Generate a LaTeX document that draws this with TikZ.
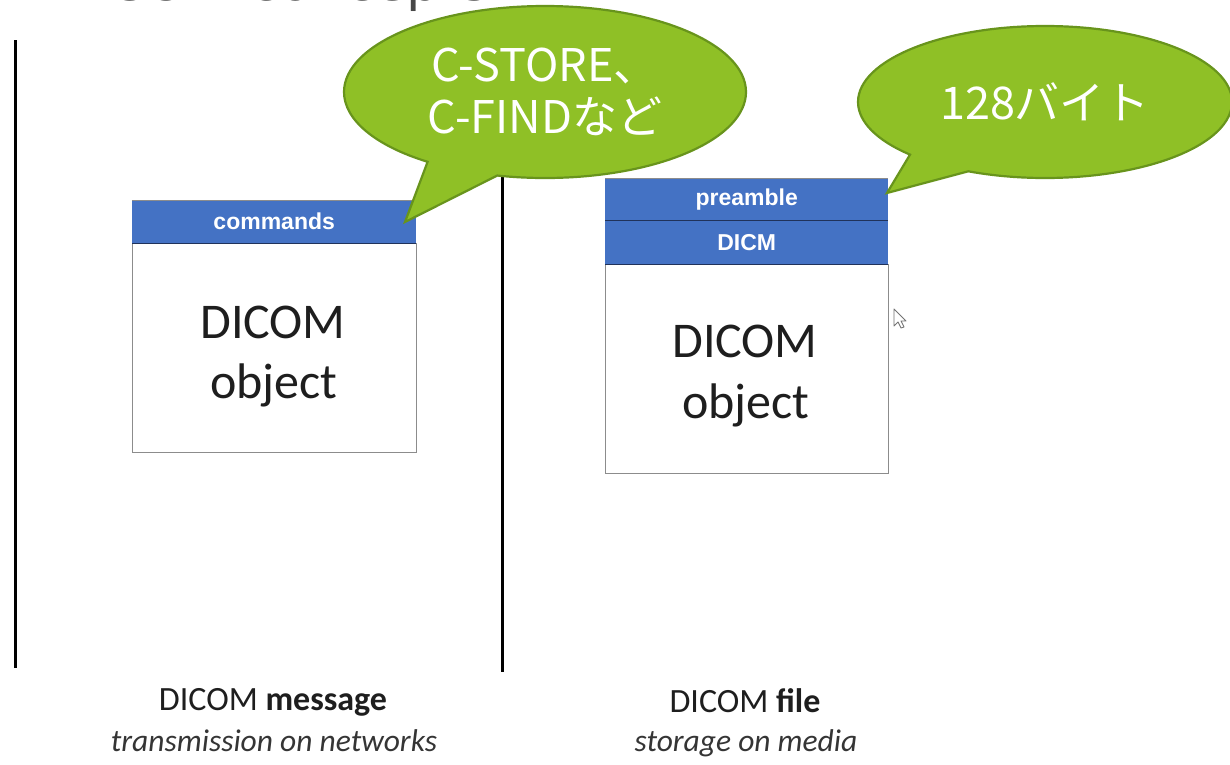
\documentclass[tikz,border=0pt]{standalone}
\usepackage{fontspec}
\setmainfont{Carlito}
\newfontfamily\jpfont{Noto Sans CJK JP}
\newfontfamily\hdfont{Liberation Sans}
\newfontfamily\titlefont{DejaVu Sans}
\usetikzlibrary{shapes.callouts}
\definecolor{hdrblue}{RGB}{68,114,196}
\definecolor{hdrline}{RGB}{32,50,90}
\definecolor{bubblegreen}{RGB}{143,192,38}
\definecolor{bubbleedge}{RGB}{104,148,28}
\definecolor{boxedge}{RGB}{140,140,140}
\definecolor{inkgray}{RGB}{30,30,30}
\begin{document}
\begin{tikzpicture}[x=1pt,y=-1pt,
  bubble/.style={ellipse callout, fill=bubblegreen, draw=bubbleedge, line width=2.2pt,
    inner sep=0pt, text=white, font=\jpfont\fontsize{45}{52}\selectfont, align=center,
    callout pointer arc=22},
  bodybox/.style={draw=boxedge, fill=white, line width=1.4pt, anchor=north west, inner sep=0pt},
  hdr/.style={fill=hdrblue, draw=none, anchor=north west, inner sep=0pt, text=white,
    font=\hdfont\bfseries\fontsize{23}{26}\selectfont},
  sepline/.style={draw=hdrline, line width=1.6pt},
  topline/.style={draw=boxedge, line width=1pt},
  objtext/.style={anchor=base, text=inkgray, font=\fontsize{50}{60}\selectfont},
  caption/.style={anchor=base, text=inkgray, font=\fontsize{34}{40}\selectfont},
  subcaption/.style={anchor=base, text=inkgray!90, font=\fontsize{31.5}{36}\selectfont\itshape},
  divider/.style={draw=black, line width=3pt}
]
\useasboundingbox (0,0) rectangle (1230,764);
\fill[white] (0,0) rectangle (1230,764);

% title (cut off at top, as in the reference)
\node[anchor=base west, inner sep=0pt, text=black!72, font=\titlefont\fontsize{53}{56}\selectfont] (title) at (52,0) {DICOM concepts};

% dividers
\draw[divider] (15,40) -- (15,668);
\draw[divider] (502,60) -- (502,672);

% DICOM message box
\node[bodybox, minimum width=284pt, minimum height=209pt] (msgbody) at (132,243) {};
\node[hdr, minimum width=284pt, minimum height=43pt] (cmd) at (132,200) {commands};
\draw[topline] (cmd.north west) -- (cmd.north east);
\draw[sepline] (cmd.south west) -- (cmd.south east);
\node[objtext] (obj1a) at (273,338) {DICOM};
\node[objtext] (obj1b) at (274,398) {object};

% DICOM file box
\node[bodybox, minimum width=283pt, minimum height=209pt] (filebody) at (605,264) {};
\node[hdr, minimum width=283pt, minimum height=42pt] (pre) at (605,178) {preamble};
\node[hdr, minimum width=283pt, minimum height=44pt] (dicm) at (605,220) {DICM};
\draw[topline] (pre.north west) -- (pre.north east);
\draw[sepline] (pre.south west) -- (pre.south east);
\draw[sepline] (dicm.south west) -- (dicm.south east);
\node[objtext] (obj2a) at (745,357) {DICOM};
\node[objtext] (obj2b) at (746,418) {object};

% callouts
\node[bubble, minimum width=402pt, minimum height=172pt, callout absolute pointer={(405,222)}] (b1) at (545,92) {C-STORE、\\C-FINDなど};
\node[bubble, minimum width=374pt, minimum height=152pt, callout absolute pointer={(887,193)}] (b2) at (1045,102) {128バイト};

% mouse cursor
\draw[black!55, fill=white, line width=0.9pt, line join=round] (894,309) -- (894,326) -- (898,322) -- (901,328) -- (904,327) -- (901,321) -- (906,321) -- cycle;

% captions
\node[caption] (lbl1) at (273,710) {DICOM \textbf{message}};
\node[subcaption] (sub1) at (274,751) {transmission on networks};
\node[caption] (lbl2) at (745,712) {DICOM \textbf{file}};
\node[subcaption] (sub2) at (746,751) {storage on media};
\end{tikzpicture}
\end{document}
